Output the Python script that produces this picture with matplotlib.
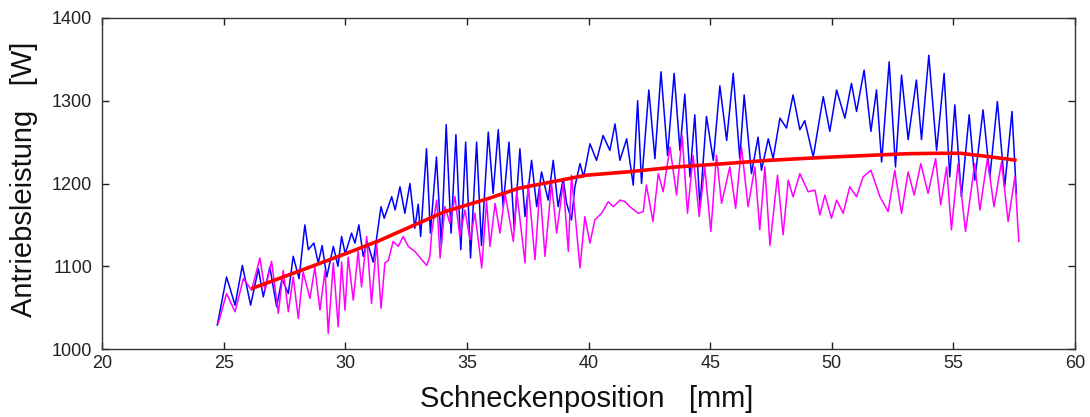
import matplotlib
matplotlib.use("Agg")
import matplotlib.pyplot as plt

# ---- data ----
blue_x = [24.74, 25.12, 25.47, 25.77, 26.11, 26.43, 26.63, 26.90, 27.18, 27.40, 27.66, 27.86,
          28.10, 28.34, 28.48, 28.71, 28.89, 29.05, 29.24, 29.51, 29.70, 29.85, 30.00, 30.26,
          30.40, 30.56, 30.74, 30.90, 31.15, 31.47, 31.60, 31.91, 32.05, 32.25, 32.45, 32.66,
          32.86, 33.00, 33.10, 33.34, 33.50, 33.75, 33.95, 34.15, 34.35, 34.55, 34.75, 34.95,
          35.15, 35.40, 35.60, 35.88, 36.08, 36.29, 36.49, 36.73, 36.95, 37.18, 37.39, 37.66,
          37.87, 38.07, 38.34, 38.55, 38.75, 38.96, 39.10, 39.30, 39.44, 39.65, 39.80, 40.06,
          40.33, 40.60, 40.88, 41.09, 41.29, 41.57, 41.84, 42.02, 42.18, 42.48, 42.73, 42.98,
          43.25, 43.52, 43.76, 43.96, 44.17, 44.37, 44.58, 44.85, 45.13, 45.40, 45.68, 45.95,
          46.22, 46.40, 46.70, 46.97, 47.11, 47.39, 47.59, 47.87, 48.14, 48.41, 48.69, 48.89,
          49.24, 49.65, 49.92, 50.20, 50.54, 50.81, 51.02, 51.33, 51.61, 51.84, 52.05, 52.36,
          52.62, 52.87, 53.14, 53.48, 53.69, 53.99, 54.31, 54.62, 54.85, 55.06, 55.33, 55.65,
          55.88, 56.22, 56.50, 56.81, 57.11, 57.41, 57.59]
blue_y = [1029, 1087, 1053, 1101, 1053, 1097, 1063, 1099, 1051, 1085, 1067, 1112,
          1085, 1150, 1120, 1128, 1104, 1125, 1087, 1124, 1100, 1136, 1115, 1140,
          1128, 1150, 1112, 1130, 1105, 1172, 1158, 1184, 1168, 1196, 1164, 1200,
          1146, 1175, 1136, 1242, 1140, 1232, 1125, 1271, 1140, 1259, 1120, 1250,
          1110, 1250, 1125, 1262, 1188, 1265, 1172, 1250, 1144, 1242, 1160, 1228,
          1172, 1214, 1180, 1228, 1172, 1206, 1176, 1156, 1196, 1224, 1208, 1248,
          1228, 1258, 1240, 1272, 1228, 1254, 1198, 1300, 1200, 1313, 1230, 1335,
          1234, 1333, 1240, 1308, 1208, 1283, 1172, 1281, 1228, 1318, 1252, 1333,
          1230, 1307, 1212, 1256, 1216, 1254, 1230, 1279, 1267, 1307, 1265, 1276,
          1232, 1305, 1263, 1313, 1279, 1321, 1287, 1337, 1263, 1313, 1226, 1347,
          1220, 1331, 1253, 1325, 1253, 1355, 1240, 1333, 1208, 1295, 1184, 1283,
          1204, 1289, 1208, 1299, 1196, 1287, 1188]

mag_x = [24.78, 25.12, 25.47, 25.81, 26.15, 26.49, 26.70, 26.97, 27.25, 27.45, 27.66, 27.86,
         28.07, 28.27, 28.55, 28.75, 28.96, 29.17, 29.30, 29.51, 29.71, 29.85, 29.99, 30.12,
         30.33, 30.53, 30.67, 30.88, 31.08, 31.29, 31.47, 31.63, 31.77, 31.97, 32.18, 32.38,
         32.59, 32.86, 33.14, 33.35, 33.48, 33.55, 33.76, 33.90, 34.10, 34.30, 34.51, 34.71,
         34.92, 35.13, 35.33, 35.61, 35.81, 35.95, 36.16, 36.36, 36.57, 36.91, 37.05, 37.39,
         37.52, 37.80, 38.00, 38.21, 38.48, 38.69, 38.96, 39.17, 39.30, 39.65, 39.85, 40.06,
         40.26, 40.54, 40.81, 41.02, 41.30, 41.50, 41.70, 42.04, 42.25, 42.38, 42.65, 42.87,
         43.07, 43.35, 43.62, 43.85, 44.07, 44.30, 44.55, 44.78, 45.03, 45.26, 45.47, 45.81,
         46.05, 46.29, 46.56, 46.84, 47.04, 47.25, 47.46, 47.77, 48.00, 48.21, 48.41, 48.69,
         49.03, 49.31, 49.51, 49.72, 49.99, 50.20, 50.47, 50.74, 51.02, 51.29, 51.61, 51.98,
         52.32, 52.59, 52.87, 53.14, 53.39, 53.66, 53.96, 54.27, 54.48, 54.72, 54.92, 55.19,
         55.50, 55.88, 56.09, 56.40, 56.67, 56.98, 57.25, 57.53, 57.69]
mag_y = [1031, 1067, 1045, 1085, 1071, 1110, 1071, 1106, 1043, 1095, 1045, 1087,
         1037, 1093, 1061, 1099, 1047, 1095, 1019, 1104, 1027, 1105, 1047, 1111,
         1059, 1118, 1075, 1136, 1055, 1128, 1049, 1104, 1107, 1130, 1124, 1136,
         1124, 1118, 1108, 1101, 1112, 1140, 1180, 1110, 1172, 1152, 1184, 1136,
         1168, 1132, 1164, 1098, 1178, 1124, 1176, 1140, 1188, 1130, 1190, 1104,
         1200, 1108, 1195, 1112, 1200, 1140, 1200, 1118, 1210, 1098, 1160, 1128,
         1156, 1164, 1178, 1172, 1180, 1178, 1172, 1164, 1166, 1198, 1154, 1212,
         1190, 1244, 1186, 1258, 1164, 1234, 1160, 1220, 1142, 1234, 1176, 1220,
         1170, 1244, 1172, 1220, 1144, 1220, 1125, 1210, 1138, 1204, 1184, 1212,
         1190, 1192, 1162, 1186, 1158, 1180, 1164, 1196, 1184, 1208, 1216, 1184,
         1166, 1216, 1164, 1214, 1186, 1224, 1188, 1230, 1174, 1220, 1144, 1224,
         1142, 1224, 1168, 1230, 1172, 1226, 1154, 1208, 1130]

red_x = [26.15, 28.0, 30.0, 31.4, 32.7, 34.1, 35.9, 37.1, 38.5, 39.9, 41.6, 43.6, 45.6,
         47.4, 50.0, 53.1, 54.4, 55.3, 56.3, 57.1, 57.6]
red_y = [1073, 1093, 1115, 1131, 1148, 1166, 1182, 1194, 1202, 1210, 1214, 1220, 1224,
         1228, 1232, 1236, 1236.5, 1236.5, 1233, 1230, 1228]

x_ticks = [20, 25, 30, 35, 40, 45, 50, 55, 60]
y_ticks = [1000, 1100, 1200, 1300, 1400]
x_label = "Schneckenposition   [mm]"
y_label = "Antriebsleistung   [W]"

# ---- figure ----
plt.rcParams['font.family'] = ['Liberation Sans', 'DejaVu Sans']
fig = plt.figure(figsize=(10.9, 4.17), dpi=100)
ax = fig.add_axes([102/1090, 1 - 349/417, (1075 - 102)/1090, (349 - 18)/417])

ax.plot(blue_x, blue_y, color=(0, 0, 1), lw=1.1, zorder=2)
ax.plot(mag_x, mag_y, color=(1, 0, 1), lw=1.1, zorder=3)
ax.plot(red_x, red_y, color=(1, 0, 0), lw=2.6, zorder=4, solid_capstyle='butt')

ax.set_xlim(20, 60)
ax.set_ylim(1000, 1400)
ax.set_xticks(x_ticks)
ax.set_yticks(y_ticks)
ax.tick_params(direction='in', length=5, width=1, labelsize=13, colors='#222222',
               top=True, right=True)
ax.tick_params(axis='y', pad=7)
ax.tick_params(axis='x', pad=4)
for s in ax.spines.values():
    s.set_color('#333333')
    s.set_linewidth(1)

fig.text(587/1090, 1 - 399/417, x_label, fontsize=21, ha='center', va='center', color='#111111')
fig.text(24/1090, 1 - 179/417, y_label, fontsize=21, ha='center', va='center',
         rotation=90, color='#111111')

fig.savefig("out.png", dpi=100)
